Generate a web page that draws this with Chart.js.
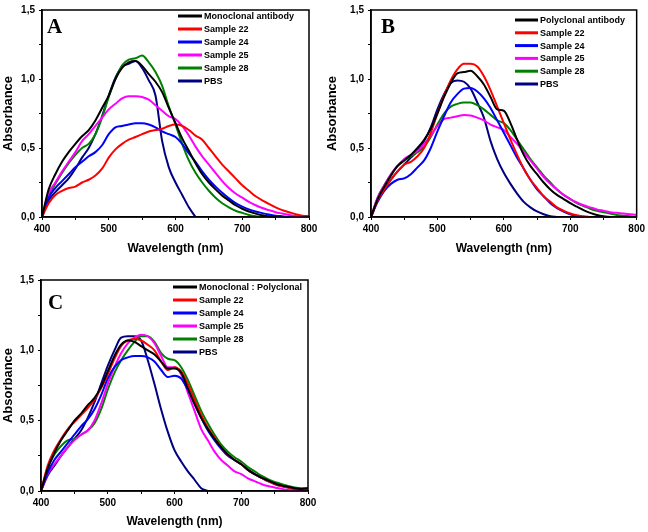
<!DOCTYPE html>
<html><head><meta charset="utf-8">
<script src="https://cdn.jsdelivr.net/npm/chart.js@4/dist/chart.umd.min.js"></script>
<style>
html,body{margin:0;padding:0;background:#fff;}
body{width:648px;height:532px;position:relative;overflow:hidden;}
canvas{position:absolute;display:block;}
</style></head><body>
<canvas id="cA" width="324" height="262" style="left:0;top:0;width:324px;height:262px"></canvas>
<canvas id="cB" width="324" height="262" style="left:324px;top:0;width:324px;height:262px"></canvas>
<canvas id="cC" width="324" height="267" style="left:0;top:265px;width:324px;height:267px"></canvas>
<script>
// ---------- data ----------
const wavelengths = [400,410,420,430,440,450,460,470,480,490,500,510,520,530,540,550,560,570,580,590,600,610,620,630,640,650,660,670,680,690,700,710,720,730,740,750,760,770,780,790,800];
const xTickValues = [400,500,600,700,800];
const xTickLabels = ['400','500','600','700','800'];
const yTickValues = [0,0.5,1,1.5];
const yTickLabels = ['0,0','0,5','1,0','1,5'];
const seriesNamesA = ['Monoclonal antibody','Sample 22','Sample 24','Sample 25','Sample 28','PBS'];
const seriesNamesB = ['Polyclonal antibody','Sample 22','Sample 24','Sample 25','Sample 28','PBS'];
const seriesNamesC = ['Monoclonal : Polyclonal','Sample 22','Sample 24','Sample 25','Sample 28','PBS'];
const seriesColors = ['#000000','#ff0000','#0000ff','#ff00ff','#008000','#000080'];

// Panel A
const aMono = [0,0.20,0.31,0.40,0.47,0.53,0.585,0.63,0.70,0.79, 0.88,1.00,1.08,1.12,1.13,1.095,1.035,0.98,0.905,0.79, 0.68,0.57,0.48,0.39,0.31,0.25,0.20,0.155,0.12,0.085, 0.06,0.04,0.025,0.012,0.005,0,null,null,null,null, null];
const aS22 = [0,0.10,0.16,0.19,0.21,0.22,0.25,0.27,0.30,0.35, 0.43,0.49,0.53,0.56,0.58,0.60,0.62,0.63,0.64,0.66, 0.67,0.66,0.63,0.59,0.56,0.50,0.44,0.38,0.33,0.28, 0.23,0.19,0.15,0.12,0.095,0.07,0.05,0.035,0.02,0.01, 0.005];
const aS24 = [0,0.14,0.21,0.26,0.31,0.36,0.40,0.44,0.47,0.52, 0.60,0.65,0.66,0.67,0.68,0.68,0.67,0.65,0.62,0.60, 0.58,0.53,0.46,0.40,0.33,0.27,0.22,0.175,0.135,0.10, 0.075,0.055,0.04,0.028,0.018,0.01,0.005,0,null,null, null];
const aS25 = [0,0.17,0.25,0.33,0.40,0.47,0.55,0.60,0.66,0.72, 0.78,0.82,0.86,0.875,0.875,0.87,0.85,0.81,0.77,0.73, 0.71,0.66,0.59,0.51,0.44,0.38,0.32,0.26,0.21,0.17, 0.14,0.11,0.085,0.065,0.05,0.035,0.025,0.015,0.008,0.003, 0];
const aS28 = [0,0.15,0.24,0.32,0.39,0.45,0.50,0.53,0.60,0.72, 0.87,1.00,1.10,1.14,1.15,1.17,1.12,1.05,0.95,0.80, 0.67,0.53,0.41,0.32,0.25,0.19,0.14,0.10,0.07,0.045, 0.03,0.015,0.005,0,null,null,null,null,null,null, null];
const aPBS = [0,0.12,0.18,0.23,0.28,0.35,0.43,0.50,0.60,0.73, 0.88,1.01,1.09,1.11,1.13,1.08,0.99,0.88,0.55,0.36, 0.25,0.16,0.07,0,null,null,null,null,null,null, null,null,null,null,null,null,null,null,null,null, null];

// Panel B
const bPoly = [0,0.13,0.22,0.30,0.37,0.41,0.45,0.50,0.56,0.64, 0.75,0.87,0.97,1.04,1.05,1.06,1.02,0.96,0.87,0.78, 0.77,0.68,0.56,0.45,0.37,0.31,0.25,0.20,0.16,0.13, 0.10,0.075,0.05,0.03,0.015,0.005,0,null,null,null, null];
const bS22 = [0,0.12,0.20,0.27,0.33,0.38,0.40,0.44,0.50,0.61, 0.75,0.88,0.99,1.07,1.11,1.11,1.09,1.02,0.92,0.80, 0.68,0.56,0.45,0.35,0.27,0.21,0.15,0.11,0.07,0.045, 0.025,0.012,0.005,0,null,null,null,null,null,null, null];
const bS24 = [0,0.11,0.19,0.24,0.27,0.28,0.31,0.36,0.41,0.50, 0.62,0.73,0.83,0.89,0.93,0.935,0.91,0.86,0.79,0.70, 0.61,0.52,0.43,0.35,0.27,0.20,0.15,0.10,0.065,0.04, 0.02,0.005,0,null,null,null,null,null,null,null, null];
const bS25 = [0,0.14,0.23,0.31,0.37,0.42,0.45,0.48,0.53,0.59, 0.66,0.71,0.72,0.73,0.74,0.735,0.72,0.70,0.67,0.65, 0.63,0.58,0.53,0.47,0.41,0.35,0.29,0.24,0.20,0.16, 0.13,0.105,0.085,0.07,0.055,0.045,0.035,0.03,0.025,0.02, 0.015];
const bS28 = [0,0.14,0.23,0.31,0.37,0.41,0.44,0.47,0.51,0.58, 0.67,0.75,0.80,0.82,0.83,0.83,0.81,0.78,0.74,0.70, 0.68,0.63,0.56,0.49,0.42,0.36,0.30,0.25,0.20,0.16, 0.13,0.10,0.08,0.06,0.045,0.035,0.025,0.015,0.01,0.005, 0];
const bPBS = [0,0.12,0.20,0.27,0.33,0.38,0.43,0.48,0.55,0.65, 0.78,0.89,0.97,0.99,0.98,0.93,0.83,0.72,0.55,0.42, 0.32,0.24,0.17,0.11,0.07,0.04,0.02,0.005,0,null, null,null,null,null,null,null,null,null,null,null, null];

// Panel C
const cMix = [0,0.16,0.27,0.36,0.43,0.50,0.55,0.61,0.66,0.74, 0.85,0.96,1.04,1.07,1.06,1.03,1.00,0.97,0.92,0.87, 0.87,0.84,0.73,0.62,0.52,0.44,0.37,0.31,0.26,0.22, 0.19,0.15,0.12,0.095,0.075,0.055,0.04,0.03,0.02,0.015, 0.02];
const cS22 = [0,0.18,0.29,0.37,0.44,0.49,0.54,0.59,0.65,0.73, 0.83,0.94,1.03,1.07,1.08,1.07,1.04,1.00,0.92,0.86, 0.88,0.85,0.76,0.65,0.54,0.45,0.38,0.31,0.26,0.22, 0.19,0.15,0.12,0.095,0.07,0.05,0.035,0.025,0.015,0.01, 0.01];
const cS24 = [0,0.13,0.22,0.28,0.34,0.40,0.46,0.51,0.58,0.68, 0.80,0.88,0.93,0.95,0.96,0.96,0.95,0.92,0.86,0.81, 0.82,0.80,0.72,0.62,0.52,0.43,0.36,0.30,0.25,0.22, 0.19,0.15,0.12,0.095,0.07,0.05,0.035,0.025,0.015,0.01, 0.01];
const cS25 = [0,0.12,0.19,0.25,0.31,0.36,0.40,0.43,0.50,0.62, 0.76,0.88,0.98,1.05,1.09,1.11,1.10,1.05,0.96,0.88, 0.88,0.83,0.70,0.57,0.44,0.36,0.28,0.22,0.18,0.14, 0.12,0.09,0.07,0.05,0.035,0.025,0.015,0.008,0.005,0.01, 0.02];
const cS28 = [0,0.16,0.26,0.32,0.36,0.37,0.40,0.43,0.48,0.58, 0.72,0.84,0.93,1.00,1.06,1.10,1.10,1.06,0.98,0.94, 0.93,0.88,0.79,0.68,0.57,0.48,0.40,0.33,0.28,0.24, 0.21,0.17,0.14,0.11,0.085,0.065,0.05,0.035,0.025,0.02, 0.02];
const cPBS = [0,0.11,0.18,0.25,0.31,0.37,0.43,0.52,0.63,0.76, 0.89,1.00,1.09,1.10,1.10,1.07,0.93,0.76,0.58,0.42, 0.29,0.21,0.14,0.08,0.02,0,null,null,null,null, null,null,null,null,null,null,null,null,null,null, null];

// ---------- drawing ----------
const FONT = 'Liberation Sans';

const decorPlugin = {
  id: 'decor',
  afterDraw(chart, args, o) {
    const ctx = chart.ctx, a = chart.chartArea;
    ctx.save();
    ctx.strokeStyle = '#000';
    ctx.lineWidth = 1.5;
    ctx.strokeRect(a.left, a.top, a.right - a.left, a.bottom - a.top);
    ctx.fillStyle = '#000';
    ctx.font = 'bold 21px "Liberation Serif"';
    ctx.textBaseline = 'alphabetic';
    ctx.textAlign = 'left';
    ctx.fillText(o.letter, o.letterX, o.letterY);
    ctx.font = 'bold 9px "' + FONT + '"';
    ctx.textBaseline = 'middle';
    chart.data.datasets.forEach((ds, i) => {
      const y = o.legY + i * o.legStep;
      ctx.strokeStyle = ds.borderColor;
      ctx.lineWidth = 3;
      ctx.beginPath();
      ctx.moveTo(o.legX, y);
      ctx.lineTo(o.legX + o.legLen, y);
      ctx.stroke();
      ctx.fillStyle = '#000';
      ctx.fillText(ds.label, o.legX + o.legLen + 2, y + 0.5);
    });
    ctx.restore();
  }
};

function labelFrom(values, labels) {
  return v => {
    for (let i = 0; i < values.length; i++) if (Math.abs(values[i] - v) < 1e-6) return labels[i];
    return '';
  };
}

function makeChart(id, names, series, L) {
  const datasets = series.map((s, i) => ({
    label: names[i],
    data: wavelengths.map((w, j) => ({x: w, y: s[j]})),
    borderColor: seriesColors[i],
    backgroundColor: seriesColors[i],
    borderWidth: 2,
    pointRadius: 0,
    fill: false,
    spanGaps: false,
    cubicInterpolationMode: 'monotone',
    clip: 1
  }));
  const tickFont = {family: FONT, weight: 'bold', size: 10};
  return new Chart(document.getElementById(id), {
    type: 'line',
    data: {datasets},
    plugins: [decorPlugin],
    options: {
      responsive: false,
      devicePixelRatio: 1,
      animation: false,
      events: [],
      layout: {padding: {left: 0, top: L.top, right: L.right, bottom: 0}},
      plugins: {
        legend: {display: false},
        tooltip: {enabled: false},
        decor: L.decor
      },
      scales: {
        x: {
          type: 'linear', min: 400, max: 800,
          afterFit: s => { s.height = L.xH; },
          ticks: {stepSize: 50, autoSkip: false, maxRotation: 0, color: '#000', font: tickFont, padding: 3,
                  callback: labelFrom(xTickValues, xTickLabels)},
          grid: {drawOnChartArea: false, tickLength: 3, color: '#000', lineWidth: 1},
          border: {color: '#000', width: 1.5},
          title: {display: true, text: 'Wavelength (nm)', color: '#000',
                  font: {family: FONT, weight: 'bold', size: 12}, padding: {top: 0, bottom: L.xTitlePad}}
        },
        y: {
          min: 0, max: 1.5,
          afterFit: s => { s.width = L.yW; },
          ticks: {stepSize: 0.25, autoSkip: false, color: '#000', font: tickFont, padding: 4,
                  callback: labelFrom(yTickValues, yTickLabels)},
          grid: {drawOnChartArea: false, tickLength: 3, color: '#000', lineWidth: 1},
          border: {color: '#000', width: 1.5},
          title: {display: true, text: 'Absorbance', color: '#000',
                  font: {family: FONT, weight: 'bold', size: 13}, padding: {top: 1, bottom: 0}}
        }
      }
    }
  });
}

makeChart('cA', seriesNamesA, [aMono, aS22, aS24, aS25, aS28, aPBS], {
  top: 7, right: 15, yW: 42, xH: 45, xTitlePad: 6,
  decor: {letter: 'A', letterX: 47, letterY: 33, legX: 178, legLen: 24, legY: 16, legStep: 13}
});
makeChart('cB', seriesNamesB, [bPoly, bS22, bS24, bS25, bS28, bPBS], {
  top: 7, right: 11, yW: 47, xH: 45, xTitlePad: 6,
  decor: {letter: 'B', letterX: 57, letterY: 33, legX: 191, legLen: 23, legY: 20, legStep: 12.8}
});
makeChart('cC', seriesNamesC, [cMix, cS22, cS24, cS25, cS28, cPBS], {
  top: 15, right: 16, yW: 41, xH: 41, xTitlePad: 3,
  decor: {letter: 'C', letterX: 48, letterY: 44, legX: 173, legLen: 24, legY: 22, legStep: 13}
});
</script>
</body></html>
